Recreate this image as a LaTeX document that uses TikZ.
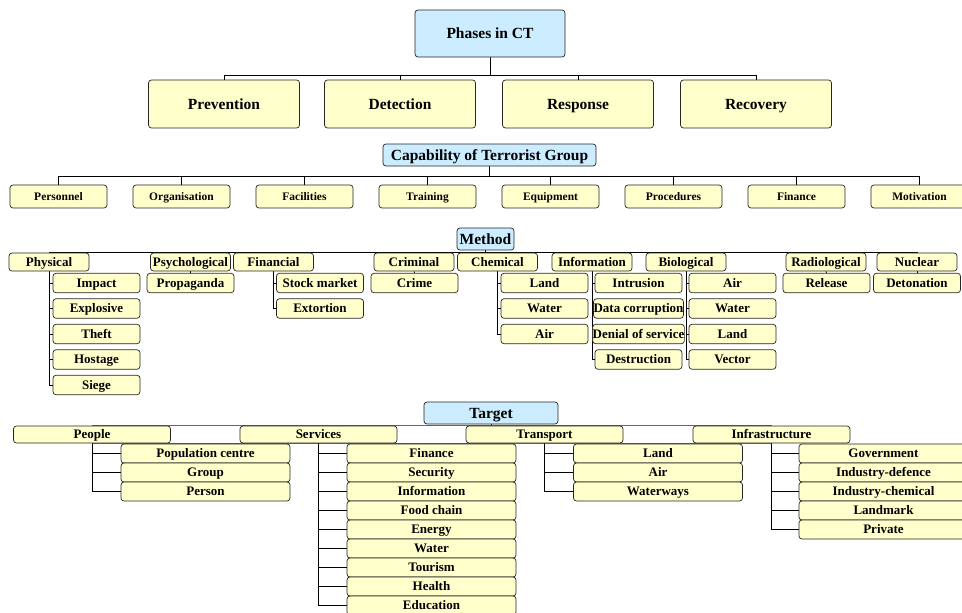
\documentclass[tikz,border=0pt]{standalone}
\usepackage{fontspec}
\setmainfont{Liberation Serif}
\usepackage{xcolor}
\usepackage{tikz}
\usetikzlibrary{positioning,shapes}

\definecolor{boxyellow}{HTML}{FFFFCC}
\definecolor{boxblue}{HTML}{CCECFF}
\pgfdeclarelayer{background}
\pgfsetlayers{background,main}

\begin{document}
\begin{tikzpicture}
[x=1pt, y=-1pt,
    every node/.style={rectangle, rounded corners=3pt, draw=black!85,
    line width=0.7pt, inner sep=0pt, align=center},
    big/.style={font=\bfseries\fontsize{15.5}{17}\selectfont, text height=11.8pt, text depth=1.6pt},
    mid/.style={font=\bfseries\fontsize{13}{14}\selectfont, text height=9.9pt, text depth=1.3pt},
    small/.style={font=\bfseries\fontsize{11.5}{13}\selectfont, text height=8.9pt, text depth=1.2pt},
    head/.style={big, fill=boxblue},
    phase/.style={big, fill=boxyellow, minimum width=151pt, minimum height=48pt},
    capab/.style={small, fill=boxyellow, minimum width=97pt, minimum height=23pt},
    meth/.style={mid, fill=boxyellow, minimum width=80pt, minimum height=18pt},
    sub/.style={mid, fill=boxyellow, minimum width=87pt, minimum height=19.5pt},
    targ/.style={mid, fill=boxyellow, minimum width=157pt, minimum height=17pt},
    leaf/.style={mid, fill=boxyellow, minimum width=169pt, minimum height=19pt},
    link/.style={draw=black, line width=0.8pt}
    ]
    \useasboundingbox (0,0) rectangle (962,613);

    % phases
    \node[head, minimum width=150pt, minimum height=47pt] (phases) at (490,33.5) {Phases in CT};
    \node[phase] (prevention) at (224,104) {Prevention};
    \node[phase] (detection) at (400,104) {Detection};
    \node[phase] (response) at (578,104) {Response};
    \node[phase] (recovery) at (756,104) {Recovery};
    \coordinate (phbus) at (490,75);

    % capability
    \node[head, minimum width=213pt, minimum height=22pt] (capability) at (489.5,155) {Capability of Terrorist Group};
    \foreach \t [count=\i] in {Personnel,Organisation,Facilities,Training,Equipment,Procedures,Finance,Motivation}
        \node[capab] (cap\i) at (-64.5+123*\i,196.5) {\t};
    \coordinate (capbus) at (489.5,176);

    % method
    \node[head, minimum width=57pt, minimum height=22pt] (method) at (485.5,239) {Method};
    \node[meth] (physical) at (49,262) {Physical};
    \node[meth] (psycho) at (190.5,262) {Psychological};
    \node[meth] (financial) at (273.5,262) {Financial};
    \node[meth] (criminal) at (414,262) {Criminal};
    \node[meth] (chemical) at (497.5,262) {Chemical};
    \node[meth] (information) at (592,262) {Information};
    \node[meth] (biological) at (686,262) {Biological};
    \node[meth] (radio) at (826,262) {Radiological};
    \node[meth] (nuclear) at (917,262) {Nuclear};
    \coordinate (mbus) at (485.5,252);

    \foreach \t [count=\i] in {Impact,Explosive,Theft,Hostage,Siege}
        \node[sub] (phys\i) at (96.5,257.5+25.5*\i) {\t};
    \node[sub] (propaganda) at (190.5,283) {Propaganda};
    \foreach \t [count=\i] in {Stock market,Extortion}
        \node[sub] (fin\i) at (320,257.5+25.5*\i) {\t};
    \node[sub] (crime) at (414.5,283) {Crime};
    \foreach \t [count=\i] in {Land,Water,Air}
        \node[sub] (chem\i) at (544.5,257.5+25.5*\i) {\t};
    \foreach \t [count=\i] in {Intrusion,Data corruption,Denial of service,Destruction}
        \node[sub] (info\i) at (638.5,257.5+25.5*\i) {\t};
    \foreach \t [count=\i] in {Air,Water,Land,Vector}
        \node[sub] (bio\i) at (732.5,257.5+25.5*\i) {\t};
    \node[sub] (release) at (826.5,283) {Release};
    \node[sub] (detonation) at (917,283) {Detonation};

    % target
    \node[head, minimum width=134pt, minimum height=22pt] (target) at (491,413) {Target};
    \node[targ] (people) at (92,434.5) {People};
    \node[targ] (services) at (318.5,434.5) {Services};
    \node[targ] (transport) at (544.5,434.5) {Transport};
    \node[targ] (infra) at (771.5,434.5) {Infrastructure};

    \foreach \t [count=\i] in {Population centre,Group,Person}
        \node[leaf] (peo\i) at (205.5,434.5+19*\i) {\t};
    \foreach \t [count=\i] in {Finance,Security,Information,Food chain,Energy,Water,Tourism,Health,Education}
        \node[leaf] (ser\i) at (431.5,434.5+19*\i) {\t};
    \foreach \t [count=\i] in {Land,Air,Waterways}
        \node[leaf] (tra\i) at (658,434.5+19*\i) {\t};
    \foreach \t [count=\i] in {Government,Industry-defence,Industry-chemical,Landmark,Private}
        \node[leaf] (inf\i) at (883.5,434.5+19*\i) {\t};

    \begin{pgfonlayer}{background}
        \draw[link] (phases.south) -- (phbus);
        \draw[link] (prevention.north |- phbus) -- (recovery.north |- phbus);
        \foreach \n in {prevention,detection,response,recovery}
            \draw[link] (\n.north) -- (\n.north |- phbus);

        \draw[link] (capability.south) -- (capbus);
        \draw[link] (cap1.north |- capbus) -- (cap8.north |- capbus);
        \foreach \i in {1,...,8}
            \draw[link] (cap\i.north) -- (cap\i.north |- capbus);

        \draw[link] (method.south) -- (mbus);
        \draw[link] (physical.north |- mbus) -- (nuclear.north |- mbus);
        \foreach \n in {physical,psycho,financial,criminal,chemical,information,biological,radio,nuclear}
            \draw[link] (\n.north) -- (\n.north |- mbus);
        \foreach \i in {1,...,5} \draw[link] (physical.south) |- (phys\i.west);
        \foreach \i in {1,2} \draw[link] (financial.south) |- (fin\i.west);
        \foreach \i in {1,2,3} \draw[link] (chemical.south) |- (chem\i.west);
        \foreach \i in {1,...,4} \draw[link] (information.south) |- (info\i.west);
        \foreach \i in {1,...,4} \draw[link] (biological.south) |- (bio\i.west);
        \draw[link] (psycho.south) -- (propaganda.north);
        \draw[link] (criminal.south) -- (crime.north);
        \draw[link] (radio.south) -- (release.north);
        \draw[link] (nuclear.south) -- (detonation.north);

        \draw[link] (target.south) -- (target.south |- people.north);
        \draw[link, draw=black!60] (people.north) -- (infra.north);
        \draw[link, draw=black!60] (people.south) -- (infra.south);
        \foreach \i in {1,2,3} \draw[link] (people.south) |- (peo\i.west);
        \foreach \i in {1,...,9} \draw[link] (services.south) |- (ser\i.west);
        \foreach \i in {1,2,3} \draw[link] (transport.south) |- (tra\i.west);
        \foreach \i in {1,...,5} \draw[link] (infra.south) |- (inf\i.west);
    \end{pgfonlayer}
\end{tikzpicture}
\end{document}
